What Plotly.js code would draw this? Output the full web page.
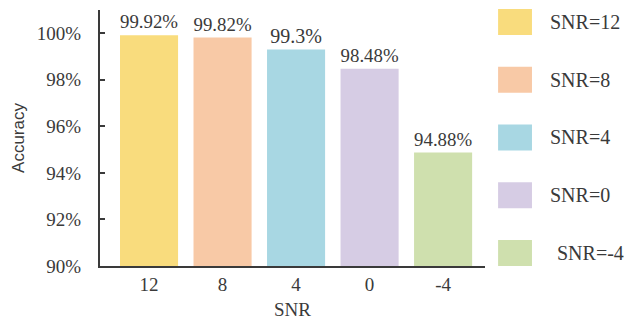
<!DOCTYPE html>
<html>
<head>
<meta charset="utf-8">
<script src="https://cdn.plot.ly/plotly-3.0.1.min.js"></script>
<style>
  html, body { margin: 0; padding: 0; background: #fff; }
  #chart { width: 624px; height: 320px; }
</style>
</head>
<body>
<div id="chart"></div>
<script>
// Classification accuracy at each signal-to-noise ratio
const snrLevels = ['12', '8', '4', '0', '-4'];
const accuracy = [99.92, 99.82, 99.3, 98.48, 94.88];
const valueLabels = ['99.92%', '99.82%', '99.3%', '98.48%', '94.88%'];
const legendNames = ['SNR=12', 'SNR=8', 'SNR=4', 'SNR=0', 'SNR=-4'];
const barColors = ['#F9DC7D', '#F8C9A6', '#A8D7E3', '#D6CCE4', '#CFE0AE'];
const yTickVals = [90, 92, 94, 96, 98, 100];
const yTickText = ['90%', '92%', '94%', '96%', '98%', '100%'];

const serif = '"Liberation Serif", "Times New Roman", serif';
const sans = '"Liberation Sans", Arial, sans-serif';
const textColor = '#3a3a3a';

const trace = {
  type: 'bar',
  x: snrLevels,
  y: accuracy,
  base: 0,
  marker: { color: barColors, line: { width: 0 } },
  text: valueLabels,
  texttemplate: '%{text}',
  textposition: 'outside',
  textfont: { family: serif, size: 20, color: textColor },
  cliponaxis: false,
  hoverinfo: 'skip',
  showlegend: false
};

// Legend key: a swatch and a caption for each SNR level, stacked down the right side
const legendTop = 0.953;
const legendStep = 0.2255;
const swatchHalf = 0.051;
const shapes = [];
const annotations = [];
legendNames.forEach((name, i) => {
  const yc = legendTop - i * legendStep;
  shapes.push({
    type: 'rect', xref: 'paper', yref: 'paper',
    x0: 1.034, x1: 1.122, y0: yc - swatchHalf, y1: yc + swatchHalf,
    fillcolor: barColors[i], line: { width: 0 }
  });
  annotations.push({
    xref: 'paper', yref: 'paper', x: i === 4 ? 1.183 : 1.164, y: yc,
    xanchor: 'left', yanchor: 'middle', showarrow: false,
    text: name, font: { family: serif, size: 20, color: textColor }
  });
});

const layout = {
  width: 624,
  height: 320,
  margin: { l: 100, r: 139, t: 10, b: 54 },
  paper_bgcolor: '#ffffff',
  plot_bgcolor: '#ffffff',
  bargap: 0.21,
  showlegend: false,
  xaxis: {
    type: 'category',
    range: [-0.667, 4.57],
    showgrid: false,
    zeroline: false,
    showline: true,
    linecolor: '#3a3a3a',
    linewidth: 2,
    ticks: '',
    ticklabelstandoff: 0,
    tickfont: { family: serif, size: 19, color: textColor },
    title: { text: 'SNR', font: { family: serif, size: 19, color: textColor }, standoff: 10 },
    automargin: false
  },
  yaxis: {
    range: [90, 101],
    tickvals: yTickVals,
    ticktext: yTickText,
    showgrid: false,
    zeroline: false,
    showline: true,
    linecolor: '#3a3a3a',
    linewidth: 2,
    ticks: 'inside',
    ticklen: 5,
    tickwidth: 2,
    tickcolor: '#3a3a3a',
    ticklabelstandoff: 13,
    tickfont: { family: serif, size: 19, color: textColor },
    title: { text: 'Accuracy', font: { family: sans, size: 17, color: textColor }, standoff: 8 },
    automargin: false
  },
  shapes: shapes,
  annotations: annotations
};

Plotly.newPlot('chart', [trace], layout, { staticPlot: true, displayModeBar: false });
</script>
</body>
</html>
